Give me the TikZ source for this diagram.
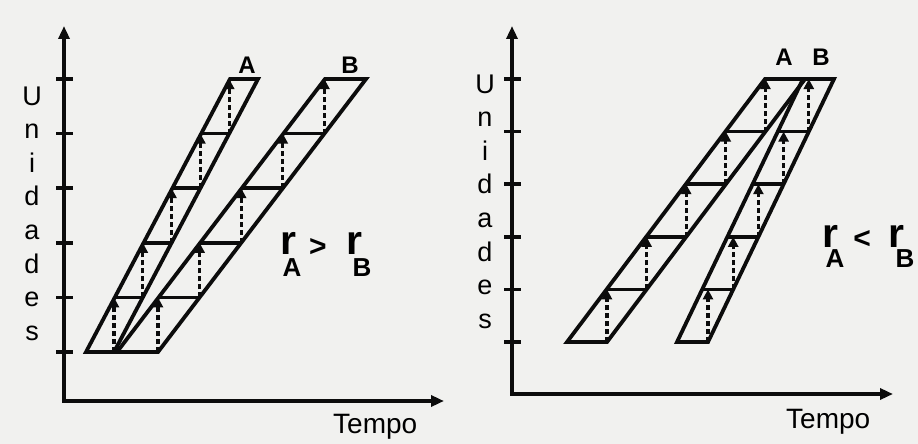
\documentclass[tikz,border=0pt]{standalone}
\usepackage{fontspec}
\setmainfont{Liberation Sans}
\usetikzlibrary{arrows.meta}
\definecolor{paper}{RGB}{241,241,239}
\definecolor{ink}{RGB}{12,12,12}

\begin{document}
\begin{tikzpicture}[
  x=1pt, y=-1pt,
  band/.style={draw=ink, line width=3.8pt, line join=miter},
  rung/.style={draw=ink, line width=3.5pt},
  lift/.style={ink, line width=3.2pt, dash pattern=on 5pt off 3pt, -{Triangle[length=10pt,width=10pt]}},
  axis/.style={ink, line width=3.8pt, {Triangle[length=13pt,width=11pt]}-{Triangle[length=13pt,width=11pt]}},
  tickmark/.style={ink, line width=3.5pt},
  vlab/.style={font=\fontsize{27}{27}\selectfont, anchor=base, inner sep=0pt},
  curve/.style={font=\bfseries\fontsize{24}{24}\selectfont, inner sep=0pt},
  rate/.style={font=\bfseries\fontsize{41}{41}\selectfont, inner sep=0pt},
  rel/.style={font=\bfseries\fontsize{30}{30}\selectfont, inner sep=0pt},
  rsub/.style={font=\bfseries\fontsize{26}{26}\selectfont, inner sep=0pt},
  axlab/.style={font=\fontsize{28}{28}\selectfont, anchor=base west, inner sep=0pt},
]
\useasboundingbox[fill=paper] (0,0) rectangle (918,444);

% axes
\coordinate (yL) at (64,26);
\coordinate (xL) at (444,401);
\coordinate (yR) at (512,26);
\coordinate (xR) at (893,394);
\draw[axis] (yL) |- (xL);
\draw[axis] (yR) |- (xR);
\foreach \t in {0,...,5} {
  \draw[tickmark] (56,{352-\t*54.6}) -- (73,{352-\t*54.6});
  \draw[tickmark] (504,{342-\t*52.6}) -- (521,{342-\t*52.6});
}

% axis labels
\foreach \l [count=\i from 0] in {U,n,i,d,a,d,e,s} {
  \node[vlab] (uL\i) at (32,{105+\i*33.6}) {\l};
  \node[vlab] (uR\i) at (485,{93+\i*33.6}) {\l};
}
\node[axlab] (tL) at (333,433) {Tempo};
\node[axlab] (tR) at (786,428) {Tempo};

% bands: x0 / width / shift / bottom / step
\foreach \xo/\w/\s/\yb/\dy in {86/28/28.8/352/54.6, 117/41/41.6/352/54.6, 567/40/39.6/342/52.6, 677/31/25.2/342/52.6} {
  \draw[band] (\xo,\yb) -- ({\xo+\w},\yb) -- ({\xo+\w+5*\s},{\yb-5*\dy}) -- ({\xo+5*\s},{\yb-5*\dy}) -- cycle;
  \foreach \k in {1,...,4}
    \draw[rung] ({\xo+\k*\s},{\yb-\k*\dy}) -- ({\xo+\w+\k*\s},{\yb-\k*\dy});
  \foreach \k in {0,...,4}
    \draw[lift] ({\xo+\w+\k*\s},{\yb-\k*\dy}) -- ({\xo+\w+\k*\s},{\yb-(\k+1)*\dy});
}

% curve names
\node[curve] (nA1) at (247,65) {A};
\node[curve] (nB1) at (350,65) {B};
\node[curve] (nA2) at (784,57) {A};
\node[curve] (nB2) at (821,57) {B};

% rates
\node[rate] (rA1) at (288,243) {r};
\node[rsub] (sA1) at (292,268) {A};
\node[rel] (gt) at (318,247) {>};
\node[rate] (rB1) at (354,243) {r};
\node[rsub] (sB1) at (362,268) {B};
\node[rate] (rA2) at (830,236) {r};
\node[rsub] (sA2) at (835,259) {A};
\node[rel] (lt) at (862,239) {<};
\node[rate] (rB2) at (896,236) {r};
\node[rsub] (sB2) at (905,259) {B};
\end{tikzpicture}
\end{document}
